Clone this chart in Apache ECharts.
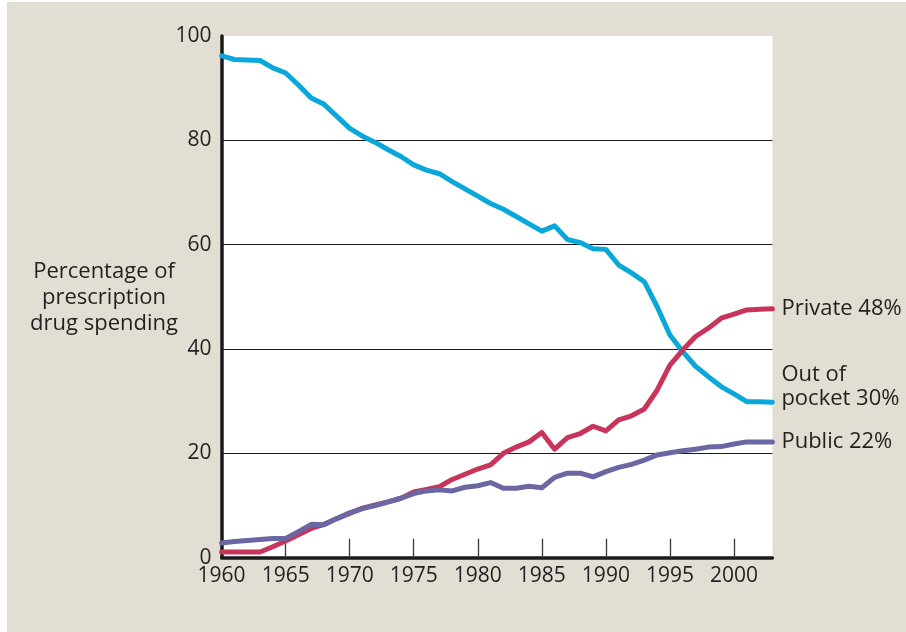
<!DOCTYPE html>
<html>
<head>
<meta charset="utf-8">
<script src="https://cdn.jsdelivr.net/npm/echarts@6/dist/echarts.min.js"></script>
<style>
  html, body { margin: 0; padding: 0; background: #ffffff; }
  #bg { position: absolute; left: 7px; top: 2px; width: 899px; height: 630px; background: #e3ded3; }
  #chart { position: absolute; left: 0; top: 0; width: 906px; height: 632px; }
</style>
</head>
<body>
<div id="bg"></div>
<div id="chart"></div>
<script>
const years = [1960,1961,1962,1963,1964,1965,1966,1967,1968,1969,1970,1971,1972,1973,1974,1975,1976,1977,1978,1979,1980,1981,1982,1983,1984,1985,1986,1987,1988,1989,1990,1991,1992,1993,1994,1995,1996,1997,1998,1999,2000,2001,2002,2003];
const outOfPocket = [96.2,95.5,95.4,95.3,93.9,92.9,90.6,88.1,86.9,84.6,82.3,80.8,79.6,78.2,76.9,75.3,74.3,73.6,72.1,70.7,69.3,67.9,66.8,65.4,64.0,62.6,63.6,61.0,60.4,59.2,59.1,56.1,54.6,52.9,48.1,42.7,39.5,36.7,34.7,32.8,31.4,29.9,29.9,29.8];
const privateIns = [1.1,1.1,1.1,1.1,2.1,3.2,4.4,5.6,6.4,7.5,8.5,9.5,10.1,10.7,11.4,12.6,13.1,13.6,15.0,16.0,17.0,17.8,20.0,21.2,22.2,24.0,20.8,23.0,23.8,25.2,24.3,26.4,27.2,28.5,32.1,36.9,39.8,42.4,44.0,45.9,46.7,47.5,47.6,47.7];
const publicIns = [2.8,3.1,3.3,3.5,3.7,3.7,5.0,6.4,6.3,7.5,8.6,9.4,10.0,10.7,11.4,12.3,12.8,13.0,12.8,13.5,13.8,14.4,13.3,13.3,13.7,13.4,15.4,16.2,16.2,15.5,16.5,17.3,17.9,18.7,19.7,20.1,20.5,20.8,21.2,21.3,21.8,22.2,22.2,22.2];
const xLabelYears = [1960,1965,1970,1975,1980,1985,1990,1995,2000];
const xTickYears = [1965,1970,1975,1980,1985,1990,1995,2000];
const seriesNames = ['Out of pocket', 'Private', 'Public'];
const endLabels = ['Out of\npocket 30%', 'Private 48%', 'Public 22%'];
const yTitle = 'Percentage of\nprescription\ndrug spending';

const FONT = '"Open Sans", "Noto Sans", sans-serif';
const TXT = '#231f20';
const pair = arr => years.map((y, i) => [y, arr[i]]);

const chart = echarts.init(document.getElementById('chart'), null, { renderer: 'canvas' });
function lineSeries(name, data, color, label, offsetY) {
  return {
    name: name, type: 'line', data: pair(data), showSymbol: false, symbol: 'none',
    lineStyle: { color: color, width: 5, join: 'round', cap: 'round' },
    itemStyle: { color: color },
    emphasis: { disabled: true },
    endLabel: {
      show: true, formatter: () => label, distance: 9, offset: [0, offsetY],
      color: TXT, fontFamily: FONT, fontSize: 22, lineHeight: 24, align: 'left'
    }
  };
}
chart.setOption({
  animation: false,
  backgroundColor: 'transparent',
  textStyle: { fontFamily: FONT },
  grid: { left: 221.6, right: 133.6, top: 36, bottom: 74.3, show: true, backgroundColor: '#ffffff', borderWidth: 0 },
  graphic: [{
    type: 'text', x: 104, y: 259,
    style: { text: yTitle, fill: TXT, font: '22px ' + FONT, align: 'center', verticalAlign: 'top', lineHeight: 26 }
  }],
  xAxis: {
    type: 'value', min: 1960, max: 2003, interval: 5,
    axisLine: { show: true, onZero: false, lineStyle: { color: '#1a1a1a', width: 3.5 } },
    axisTick: { show: true, inside: true, length: 19, customValues: xTickYears, lineStyle: { color: '#3a3a3a', width: 1.3 } },
    axisLabel: { customValues: xLabelYears, color: TXT, fontSize: 21, fontFamily: FONT, margin: 8, formatter: v => String(v) },
    splitLine: { show: false }
  },
  yAxis: {
    type: 'value', min: 0, max: 100, interval: 20,
    axisLine: { show: true, lineStyle: { color: '#1a1a1a', width: 3.5 } },
    axisTick: { show: false },
    axisLabel: { color: TXT, fontSize: 21, fontFamily: FONT, margin: 10 },
    splitLine: { show: true, showMaxLine: false, lineStyle: { color: '#1a1a1a', width: 1 } }
  },
  series: [
    lineSeries(seriesNames[0], outOfPocket, '#0aa7da', endLabels[0], -15),
    lineSeries(seriesNames[1], privateIns, '#c8355a', endLabels[1], 0),
    lineSeries(seriesNames[2], publicIns, '#6a67a3', endLabels[2], 0)
  ]
});
</script>
</body>
</html>
